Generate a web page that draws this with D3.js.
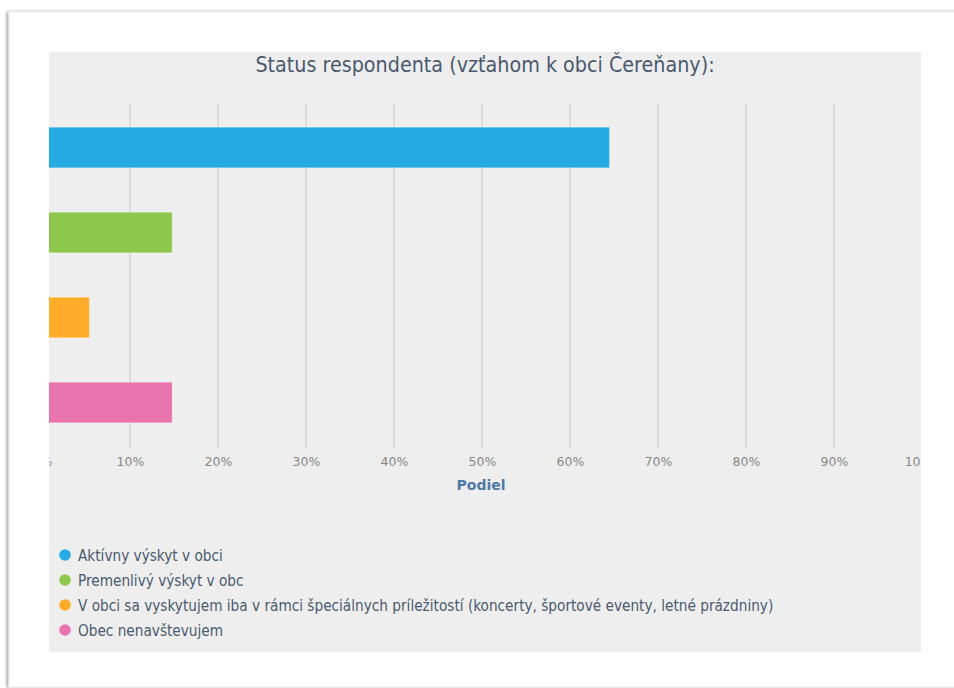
<!DOCTYPE html>
<html>
<head>
<meta charset="utf-8">
<script src="https://cdn.jsdelivr.net/npm/d3@7"></script>
<style>
  html, body { margin: 0; padding: 0; background: #fff; overflow: hidden; }
  svg { display: block; }
</style>
</head>
<body>
<svg id="chart" width="954" height="688"></svg>
<script>
// chart data
const categories = [
  "Aktívny výskyt v obci",
  "Premenlivý výskyt v obc",
  "V obci sa vyskytujem iba v rámci špeciálnych príležitostí (koncerty, športové eventy, letné prázdniny)",
  "Obec nenavštevujem"
];
const values = [64.5, 14.8, 5.4, 14.8];
const colors = ["#25aae1", "#8dc84c", "#ffac2b", "#e874ae"];
const tickValues = [0, 10, 20, 30, 40, 50, 60, 70, 80, 90, 100];
const title = "Status respondenta (vzťahom k obci Čereňany):";
const axisTitle = "Podiel";

const svg = d3.select("#chart");

// card with soft shadow on the left
const defs = svg.append("defs");
const shadow = defs.append("filter").attr("id", "shadow")
  .attr("x", "-5%").attr("y", "-5%").attr("width", "110%").attr("height", "110%");
shadow.append("feDropShadow")
  .attr("dx", -2).attr("dy", 0).attr("stdDeviation", 1.6)
  .attr("flood-color", "#000").attr("flood-opacity", 0.35);

svg.append("rect")
  .attr("x", 9).attr("y", 12).attr("width", 990).attr("height", 675)
  .attr("fill", "#fff").attr("stroke", "#ececec")
  .attr("filter", "url(#shadow)");

// grey panel
const panel = {x: 49, y: 52, w: 872, h: 600};
svg.append("rect")
  .attr("x", panel.x).attr("y", panel.y)
  .attr("width", panel.w).attr("height", panel.h)
  .attr("fill", "#eeeeee");

defs.append("clipPath").attr("id", "panelClip")
  .append("rect")
  .attr("x", panel.x).attr("y", panel.y)
  .attr("width", panel.w).attr("height", panel.h);

const g = svg.append("g").attr("clip-path", "url(#panelClip)");

const x = d3.scaleLinear().domain([0, 100]).range([42, 922]);
const y = d3.scaleBand().domain(categories).range([105, 445])
  .paddingInner(0.52).paddingOuter(0.26);

// gridlines
g.selectAll("line.grid")
  .data(tickValues)
  .join("line")
  .attr("class", "grid")
  .attr("x1", d => x(d)).attr("x2", d => x(d))
  .attr("y1", 103).attr("y2", 447)
  .attr("stroke", "#d4d4d4")
  .attr("stroke-width", 1.5);

// bars
g.selectAll("rect.bar")
  .data(categories)
  .join("rect")
  .attr("class", "bar")
  .attr("x", x(0))
  .attr("y", d => y(d))
  .attr("width", (d, i) => x(values[i]) - x(0))
  .attr("height", y.bandwidth())
  .attr("fill", (d, i) => colors[i])
  .attr("stroke", "rgba(255,255,255,0.45)")
  .attr("stroke-width", 1);

// x axis labels
const axis = d3.axisBottom(x)
  .tickValues(tickValues)
  .tickFormat(d => d + "%")
  .tickSize(0)
  .tickPadding(0);

const axisG = g.append("g")
  .attr("transform", "translate(0,457)")
  .call(axis);
axisG.select(".domain").remove();
axisG.selectAll("text")
  .attr("dy", "0.71em")
  .attr("fill", "#888")
  .style("font-family", "'DejaVu Sans', sans-serif")
  .style("font-size", "12.5px");

g.append("text")
  .attr("x", 481).attr("y", 490)
  .attr("text-anchor", "middle")
  .attr("fill", "#4f78a8")
  .style("font-family", "'DejaVu Sans', sans-serif")
  .style("font-weight", "bold")
  .style("font-size", "14px")
  .text(axisTitle);

// title
svg.append("text")
  .attr("x", 485).attr("y", 72)
  .attr("text-anchor", "middle")
  .attr("fill", "#4a5a6e")
  .style("font-family", "'DejaVu Sans Condensed', 'DejaVu Sans', sans-serif")
  .style("font-size", "21.3px")
  .text(title);

// legend
const legend = svg.append("g");
const rows = legend.selectAll("g")
  .data(categories)
  .join("g")
  .attr("transform", (d, i) => `translate(65,${555 + i * 25})`);

rows.append("circle")
  .attr("r", 5.8)
  .attr("fill", (d, i) => colors[i]);

rows.append("text")
  .attr("x", 13).attr("y", 5.5)
  .attr("fill", "#4a5a6e")
  .style("font-family", "'DejaVu Sans Condensed', 'DejaVu Sans', sans-serif")
  .style("font-size", "15.2px")
  .text(d => d);
</script>
</body>
</html>
